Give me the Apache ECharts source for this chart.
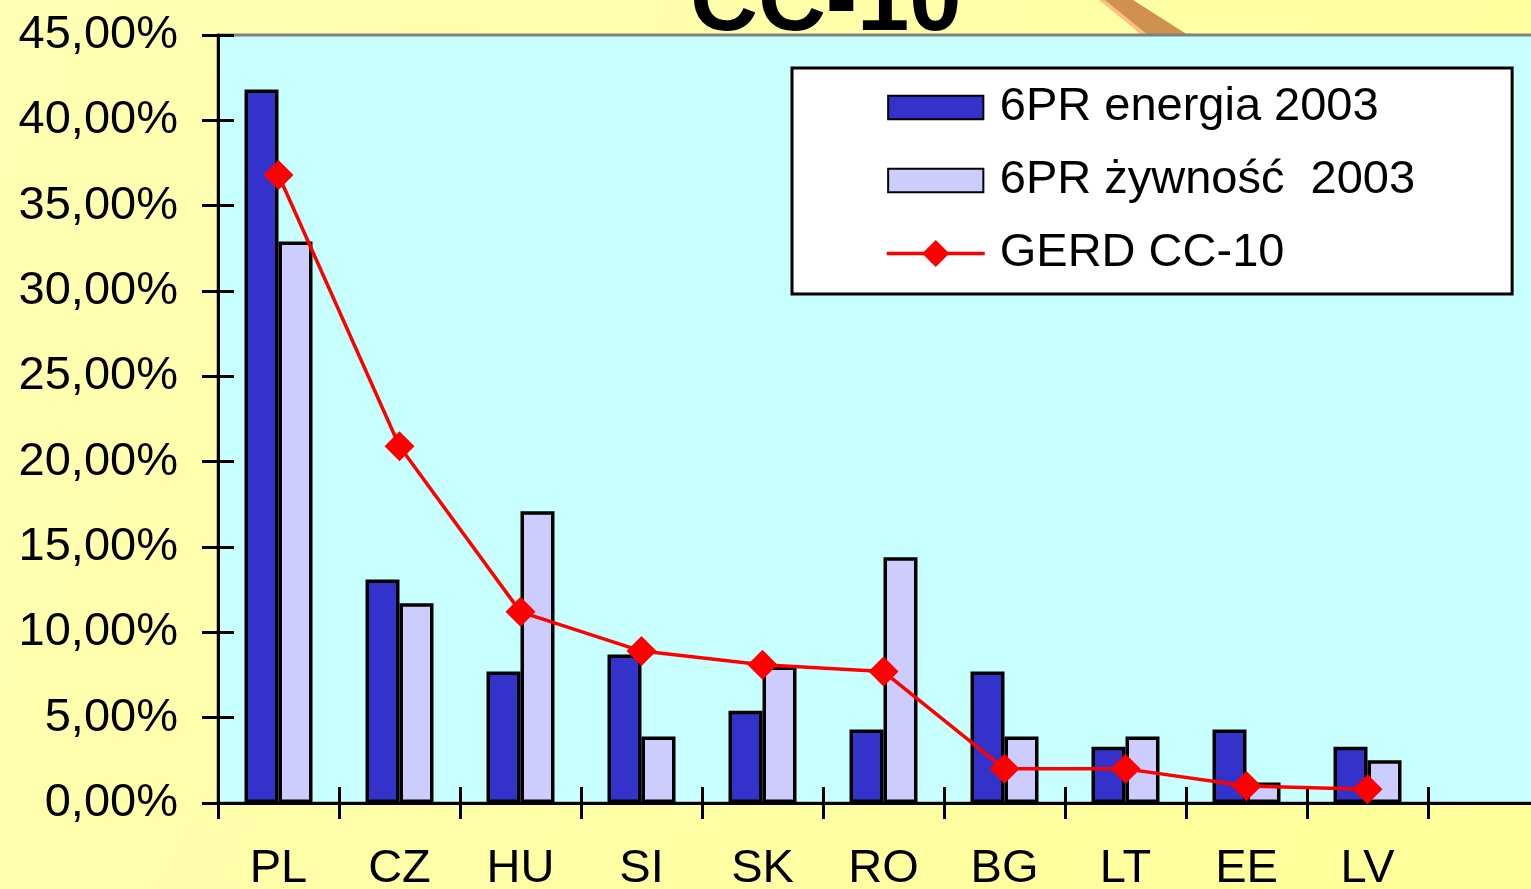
<!DOCTYPE html>
<html>
<head>
<meta charset="utf-8">
<script src="https://cdn.jsdelivr.net/npm/echarts@6/dist/echarts.min.js"></script>
<style>
html,body{margin:0;padding:0;}
#c{width:1531px;height:889px;}
</style>
</head>
<body>
<div id="c"></div>
<script>
var categories = ['PL','CZ','HU','SI','SK','RO','BG','LT','EE','LV'];
var energia = [41.8, 13.1, 7.7, 8.7, 5.4, 4.3, 7.7, 3.3, 4.3, 3.3];
var zywnosc = [32.9, 11.7, 17.1, 3.9, 8.0, 14.4, 3.9, 3.9, 1.2, 2.5];
var gerd = [36.8, 20.9, 11.2, 8.9, 8.1, 7.7, 2.0, 2.0, 1.0, 0.8];
var seriesNames = ['6PR energia 2003', '6PR żywność  2003', 'GERD CC-10'];
var titleText = 'CC-10';

var FONT = '"Liberation Sans", Arial, sans-serif';
var axisCats = categories.concat(['']);
var chart = echarts.init(document.getElementById('c'), null, {renderer: 'canvas'});
var pctFmt = function (v) { return v.toFixed(2).replace('.', ',') + '%'; };
// rectangle icon 98x24 centred inside a 98x35 legend slot
var RECT_ICON = 'path://M0 0 M0 5.5 L98 5.5 L98 29.5 L0 29.5 Z M98 35';

chart.setOption({
  animation: false,
  backgroundColor: {
    type: 'linear', x: 0, y: 0, x2: 1, y2: 1,
    colorStops: [{offset: 0, color: '#FFFFB4'}, {offset: 1, color: '#FFFF99'}]
  },
  title: {
    text: titleText,
    left: 690,
    top: -43,
    padding: 0,
    textStyle: {
      fontFamily: FONT, fontSize: 94, fontWeight: 'bold', color: '#000',
      textShadowColor: '#ffffff', textShadowOffsetX: 4, textShadowOffsetY: 3, textShadowBlur: 0
    }
  },
  graphic: [
    {type: 'polygon', z: -1, shape: {points: [[1099,0],[1106,0],[1150,35],[1142,35]]}, style: {fill: '#FFC080'}},
    {type: 'polygon', z: -1, shape: {points: [[1105,0],[1133,0],[1188,35],[1148,35]]}, style: {fill: '#D0914F'}}
  ],
  grid: {
    left: 218, width: 1331, top: 35, bottom: 86,
    show: true, backgroundColor: '#C8FFFF', borderColor: '#808080', borderWidth: 3,
    containLabel: false,
    outerBoundsMode: 'none'
  },
  legend: {
    orient: 'vertical',
    left: 792, top: 68,
    padding: [16, 97, 17, 93],
    backgroundColor: '#ffffff',
    borderColor: '#000', borderWidth: 3,
    itemWidth: 98, itemHeight: 34, itemGap: 26,
    textStyle: {fontFamily: FONT, fontSize: 47, color: '#000', lineHeight: 47, padding: [0,0,0,10]},
    data: [
      {name: seriesNames[0], icon: RECT_ICON},
      {name: seriesNames[1], icon: RECT_ICON},
      {name: seriesNames[2], lineStyle: {width: 3.5, color: '#FF0000'}}
    ]
  },
  xAxis: [{
    type: 'category', data: axisCats, position: 'bottom',
    axisLine: {lineStyle: {color: '#000', width: 3}},
    axisTick: {show: true, inside: false, length: 16, lineStyle: {color: '#000', width: 3}},
    axisLabel: {fontFamily: FONT, fontSize: 47, color: '#000', margin: 43, interval: 0},
    splitLine: {show: false}
  }, {
    type: 'category', data: axisCats, position: 'bottom', gridIndex: 0,
    axisLine: {show: false},
    axisTick: {show: true, inside: true, length: 16, lineStyle: {color: '#000', width: 3}},
    axisLabel: {show: false},
    splitLine: {show: false}
  }],
  yAxis: [{
    type: 'value', min: 0, max: 45, interval: 5, position: 'left',
    axisLine: {show: true, lineStyle: {color: '#000', width: 3}},
    axisTick: {show: true, inside: false, length: 16, lineStyle: {color: '#000', width: 3}},
    axisLabel: {fontFamily: FONT, fontSize: 47, color: '#000', margin: 40, formatter: pctFmt},
    splitLine: {show: false}
  }, {
    type: 'value', min: 0, max: 45, interval: 5, position: 'left', gridIndex: 0,
    axisLine: {show: false},
    axisTick: {show: true, inside: true, length: 16, lineStyle: {color: '#000', width: 3}},
    axisLabel: {show: false},
    splitLine: {show: false}
  }],
  series: [{
    name: seriesNames[0], type: 'bar', data: energia,
    barWidth: 34, barGap: '0%',
    itemStyle: {color: '#3333CC', borderColor: '#000', borderWidth: 3.5}
  }, {
    name: seriesNames[1], type: 'bar', data: zywnosc,
    barWidth: 34, barGap: '0%',
    itemStyle: {color: '#CCCCFF', borderColor: '#000', borderWidth: 3.5}
  }, {
    name: seriesNames[2], type: 'line', data: gerd, z: 5,
    symbol: 'diamond', symbolSize: 30,
    lineStyle: {color: '#FF0000', width: 3.5},
    itemStyle: {color: '#FF0000'}
  }]
});
</script>
</body>
</html>
